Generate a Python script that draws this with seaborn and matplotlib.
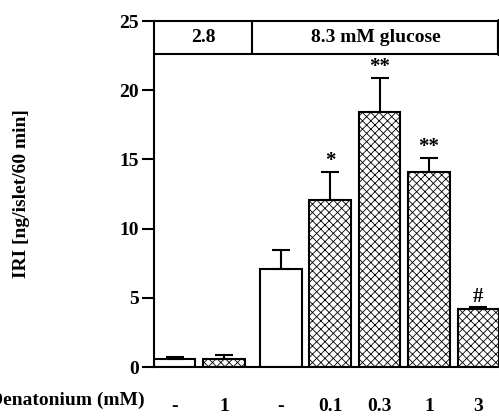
import matplotlib
matplotlib.use("Agg")
import matplotlib.pyplot as plt
import seaborn as sns
import pandas as pd
import numpy as np

# ---- data ----
conc_labels = ["-", "1", "-", "0.1", "0.3", "1", "3"]
glucose_group = [0, 0, 1, 1, 1, 1, 1]          # 0 -> 2.8 mM, 1 -> 8.3 mM
treated = [False, True, False, True, True, True, True]
iri_mean = [0.6, 0.6, 7.1, 12.1, 18.4, 14.1, 4.2]
iri_sem = [0.12, 0.25, 1.35, 2.0, 2.5, 1.0, 0.1]
sig_marks = ["", "", "", "*", "**", "**", "#"]
header_labels = ["2.8", "8.3 mM glucose"]
y_ticks = [0, 5, 10, 15, 20, 25]

# ---- layout ----
group_gap = 0.15
xpos = [i + group_gap * g for i, g in enumerate(glucose_group)]
bar_w = 0.84
FS = 14

sns.set_theme(style="white")
plt.rcParams["font.family"] = ["Liberation Serif", "DejaVu Serif"]
plt.rcParams["font.weight"] = "bold"
plt.rcParams["text.color"] = "black"
plt.rcParams["axes.labelcolor"] = "black"
plt.rcParams["xtick.color"] = "black"
plt.rcParams["ytick.color"] = "black"
plt.rcParams["hatch.linewidth"] = 0.6
plt.rcParams["hatch.color"] = "#909090"

fig = plt.figure(figsize=(4.99, 4.16), dpi=100)
ax = fig.add_axes([154 / 499, (416 - 367) / 416, 345 / 499, (367 - 21) / 416])

df = pd.DataFrame({"x": xpos, "y": iri_mean})
sns.barplot(data=df, x="x", y="y", native_scale=True, width=bar_w,
            color="white", edgecolor="black", linewidth=1.5, ax=ax,
            errorbar=None)

for p, t in zip(ax.patches, treated):
    p.set_facecolor("white")
    p.set_edgecolor("black")
    p.set_linewidth(1.5)
    if t:
        p.set_hatch("xxxx")

ax.errorbar(xpos, iri_mean, yerr=[np.zeros(len(iri_sem)), iri_sem], fmt="none",
            ecolor="black", elinewidth=1.5, capsize=6.5, capthick=1.5, zorder=3)

for x, m, e, s in zip(xpos, iri_mean, iri_sem, sig_marks):
    if s:
        ax.text(x, m + e + 0.05, s, ha="center", va="bottom",
                fontsize=15, fontweight="bold", color="black")

x0 = xpos[0] - bar_w / 2
x1 = xpos[-1] + bar_w / 2
ax.set_xlim(x0, x1)
ax.set_ylim(0, 25)

# header box
hdr_y = 22.6
ax.plot([x0, x1], [hdr_y, hdr_y], color="black", lw=1.5, clip_on=False)
div_x = (xpos[1] + xpos[2]) / 2
ax.plot([div_x, div_x], [hdr_y, 25], color="black", lw=1.5)
ax.plot([x1, x1], [hdr_y, 25], color="black", lw=3, clip_on=False)
ax.text((x0 + div_x) / 2, (hdr_y + 25) / 2, header_labels[0], ha="center",
        va="center", fontsize=FS, fontweight="bold", color="black")
ax.text((div_x + x1) / 2, (hdr_y + 25) / 2, header_labels[1], ha="center",
        va="center", fontsize=FS, fontweight="bold", color="black")

# spines
ax.spines["right"].set_visible(False)
for side in ["left", "top", "bottom"]:
    ax.spines[side].set_linewidth(1.5)
    ax.spines[side].set_color("black")

ax.set_yticks(y_ticks)
ax.set_yticklabels([str(v) for v in y_ticks], fontsize=FS, fontweight="bold")
ax.tick_params(axis="y", direction="out", length=9, width=1.5, pad=2, left=True)

ax.set_xticks(xpos)
ax.set_xticklabels(conc_labels, fontsize=FS, fontweight="bold")
ax.tick_params(axis="x", length=0, pad=22)
minor = [x for x, l in zip(xpos, conc_labels) if l != "-"]
ax.set_xticks(minor, minor=True)
ax.tick_params(axis="x", which="minor", direction="out", length=8, width=1.5,
               bottom=True)
ax.set_xlabel("")
ax.set_ylabel("IRI [ng/islet/60 min]", fontsize=14, fontweight="bold")
ax.yaxis.set_label_coords(-0.36, 0.5)

fig.text(145 / 499, 1 - 400 / 416, "Denatonium (mM)", ha="right", va="center",
         fontsize=FS, fontweight="bold")

fig.savefig("out.png", dpi=100)
